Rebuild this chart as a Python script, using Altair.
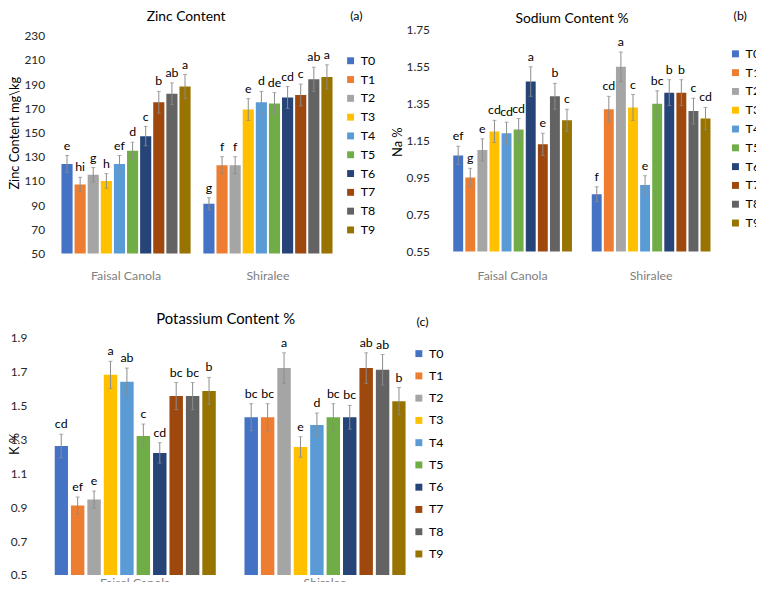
import altair as alt
import pandas as pd

treatments = ["T0", "T1", "T2", "T3", "T4", "T5", "T6", "T7", "T8", "T9"]
varieties = ["Faisal Canola", "Shiralee"]
colors = ["#4472C4", "#ED7D31", "#A5A5A5", "#FFC000", "#5B9BD5",
          "#70AD47", "#264478", "#9E480E", "#636363", "#997300"]

# (a) Zinc content mg/kg
zinc_fc = [124, 107, 115, 110, 124, 135, 147, 175, 182, 188]
zinc_sh = [91, 123, 123, 169, 175, 174, 179, 181, 194, 196]
zinc_fc_err = [7, 6, 6, 6, 7, 7, 8, 9, 9, 10]
zinc_sh_err = [5, 7, 7, 9, 9, 9, 9, 9, 10, 10]
zinc_fc_let = ["e", "hi", "g", "h", "ef", "d", "c", "b", "ab", "a"]
zinc_sh_let = ["g", "f", "f", "e", "d", "de", "cd", "c", "ab", "a"]
zinc_ticks = [50, 70, 90, 110, 130, 150, 170, 190, 210, 230]

# (b) Sodium content %
na_fc = [1.07, 0.95, 1.10, 1.20, 1.19, 1.21, 1.47, 1.13, 1.39, 1.26]
na_sh = [0.86, 1.32, 1.55, 1.33, 0.91, 1.35, 1.41, 1.41, 1.31, 1.27]
na_fc_err = [0.05, 0.05, 0.06, 0.06, 0.06, 0.06, 0.08, 0.06, 0.07, 0.06]
na_sh_err = [0.04, 0.07, 0.08, 0.07, 0.05, 0.07, 0.07, 0.07, 0.07, 0.06]
na_fc_let = ["ef", "g", "e", "cd", "cd", "cd", "a", "e", "b", "c"]
na_sh_let = ["f", "cd", "a", "c", "e", "bc", "b", "b", "c", "cd"]
na_ticks = [0.55, 0.75, 0.95, 1.15, 1.35, 1.55, 1.75]

# (c) Potassium content %
k_fc = [1.26, 0.91, 0.945, 1.68, 1.64, 1.32, 1.22, 1.555, 1.555, 1.585]
k_sh = [1.43, 1.43, 1.72, 1.255, 1.385, 1.43, 1.43, 1.72, 1.71, 1.525]
k_fc_err = [0.07, 0.05, 0.05, 0.08, 0.08, 0.07, 0.06, 0.08, 0.08, 0.08]
k_sh_err = [0.08, 0.08, 0.09, 0.06, 0.07, 0.08, 0.07, 0.09, 0.09, 0.08]
k_fc_let = ["cd", "ef", "e", "a", "ab", "c", "cd", "bc", "bc", "b"]
k_sh_let = ["bc", "bc", "a", "e", "d", "bc", "bc", "ab", "ab", "b"]
k_ticks = [0.5, 0.7, 0.9, 1.1, 1.3, 1.5, 1.7, 1.9]

FONT = "Lato"
ERR_COLOR = "#8c8c8c"


def make_df(fc, sh, fc_err, sh_err, fc_let, sh_let):
    rows = []
    for var, vals, errs, lets in ((varieties[0], fc, fc_err, fc_let),
                                  (varieties[1], sh, sh_err, sh_let)):
        for t, v, e, l in zip(treatments, vals, errs, lets):
            rows.append(dict(variety=var, treatment=t, value=v,
                             lo=v - e, hi=v + e, letter=l))
    return pd.DataFrame(rows)


def panel(df, c):
    yscale = alt.Scale(domain=c["domain"], nice=False, zero=False)
    yaxis = alt.Axis(values=c["ticks"], format=c["fmt"], title=c["ytitle"],
                     domain=False, ticks=False, grid=False,
                     labelFontSize=12, labelColor="#262626",
                     labelPadding=c["ylp"], labelOverlap=False,
                     titleFontSize=13,
                     titleFontWeight="normal", titleColor="#000000",
                     titleX=c["ytx"], titleY=c["yty"], titleBaseline="middle",
                     titleAngle=270, titleAlign="center")
    x = alt.X("variety:N", sort=varieties, title=None,
              scale=alt.Scale(paddingInner=c["pi"], paddingOuter=c["po"]),
              axis=alt.Axis(labelAngle=0, labelColor="#808080",
                            labelFontSize=12.5, labelPadding=c["xlp"],
                            labelBaseline="top", domain=False, ticks=False))
    xo = alt.XOffset("treatment:N", sort=treatments,
                     scale=alt.Scale(paddingInner=c["bpi"], paddingOuter=0))
    base = alt.Chart(df).encode(x=x, xOffset=xo)
    bars = base.mark_bar(clip=True).encode(
        y=alt.Y("value:Q", scale=yscale, axis=yaxis),
        color=alt.Color("treatment:N", sort=treatments,
                        scale=alt.Scale(domain=treatments, range=colors),
                        legend=alt.Legend(orient="none", legendX=c["lx"],
                                          legendY=c["ly"], title=None,
                                          symbolType="square", symbolSize=49,
                                          symbolStrokeWidth=0,
                                          labelFontSize=12.5,
                                          labelColor="#000000",
                                          rowPadding=c["rp"], labelOffset=4)))
    err = base.mark_rule(color=ERR_COLOR, strokeWidth=1).encode(
        y=alt.Y("lo:Q", scale=yscale, axis=yaxis), y2="hi:Q")
    cap_hi = base.mark_tick(color=ERR_COLOR, thickness=1, size=4).encode(
        y=alt.Y("hi:Q", scale=yscale, axis=yaxis))
    cap_lo = base.mark_tick(color=ERR_COLOR, thickness=1, size=4).encode(
        y=alt.Y("lo:Q", scale=yscale, axis=yaxis))
    letters = base.mark_text(baseline="bottom", dy=-3, fontSize=12.5,
                             color="#000000").encode(
        y=alt.Y("hi:Q", scale=yscale, axis=yaxis), text="letter:N")
    title = alt.Chart(pd.DataFrame({"t": [c["title"]]})).mark_text(
        fontSize=c["tfs"], align="center", baseline="alphabetic",
        color="#000000").encode(x=alt.value(c["tx"]), y=alt.value(c["ty"]),
                                text="t:N")
    tag = alt.Chart(pd.DataFrame({"t": [c["tag"]]})).mark_text(
        fontSize=12.5, align="center", baseline="alphabetic",
        color="#000000").encode(x=alt.value(c["gx"]), y=alt.value(c["gy"]),
                                text="t:N")
    return alt.layer(bars, err, cap_hi, cap_lo, letters, title, tag).properties(
        width=c["w"], height=c["h"])


cfg_a = dict(domain=[50, 234.9], ticks=zinc_ticks, fmt="d",
             ytitle="Zinc Content mg\\kg", ytx=-40, yty=104, ylp=10,
             pi=0.09, po=0.049, bpi=0.15, xlp=16, lx=293, ly=25, rp=6,
             title="Zinc Content", tfs=14, tx=133, ty=-9,
             tag="(a)", gx=305, gy=-10, w=288, h=226)
cfg_b = dict(domain=[0.55, 1.75], ticks=na_ticks, fmt=".2f",
             ytitle="Na %", ytx=-42, yty=113, ylp=10,
             pi=0.143, po=0.1, bpi=0.18, xlp=18, lx=293, ly=18, rp=6,
             title="Sodium Content %", tfs=14, tx=134, ty=-7,
             tag="(b)", gx=304, gy=-10, w=288, h=224)
cfg_c = dict(domain=[0.5, 1.9], ticks=k_ticks, fmt=".1f",
             ytitle="K %", ytx=-40, yty=107, ylp=28,
             pi=0.151, po=0.0, bpi=0.18, xlp=2, lx=362, ly=10, rp=9.5,
             title="Potassium Content %", tfs=15, tx=173, ty=-14,
             tag="(c)", gx=372, gy=-12, w=355, h=240)

pa = panel(make_df(zinc_fc, zinc_sh, zinc_fc_err, zinc_sh_err,
                   zinc_fc_let, zinc_sh_let), cfg_a)
pb = panel(make_df(na_fc, na_sh, na_fc_err, na_sh_err,
                   na_fc_let, na_sh_let), cfg_b)
pc = panel(make_df(k_fc, k_sh, k_fc_err, k_sh_err,
                   k_fc_let, k_sh_let), cfg_c)

top = alt.hconcat(pa, pb, spacing=16).resolve_scale(
    color="independent", x="independent", y="independent",
    xOffset="independent").resolve_legend(color="independent")
chart = alt.vconcat(top, pc, spacing=30).resolve_scale(
    color="independent", x="independent", y="independent",
    xOffset="independent").resolve_legend(color="independent").properties(
    padding={"left": 1, "top": -1, "right": -5, "bottom": -11}
).configure(font=FONT).configure_view(strokeWidth=0)

chart.save("out.html", embed_options={"renderer": "svg", "actions": False})
